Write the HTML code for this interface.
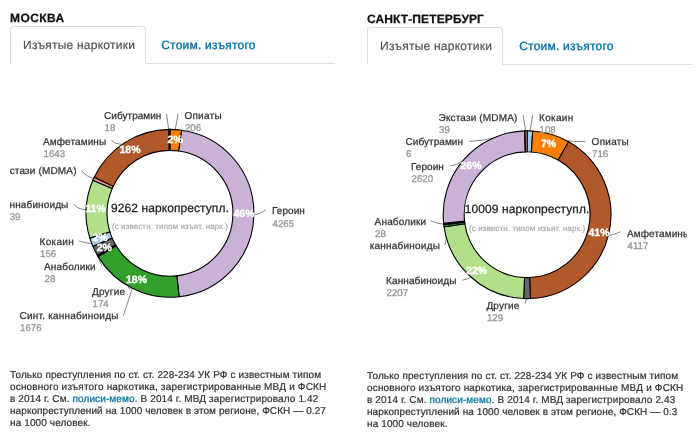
<!DOCTYPE html>
<html lang="ru"><head><meta charset="utf-8"><title>Наркопреступления</title>
<style>
html,body{margin:0;padding:0;background:#fff}
body{text-rendering:geometricPrecision;width:700px;height:440px;position:relative;overflow:hidden;font-family:"Liberation Sans",Arial,Helvetica,sans-serif;color:#333}
.panel{position:absolute;top:0;width:325px;height:440px}
.p1{left:10px;top:0}
.p2{left:367px;top:1px}
.title{position:absolute;left:0;top:10.2px;font-size:12px;line-height:16px;font-weight:bold;color:#111;white-space:nowrap;letter-spacing:.43px;-webkit-text-stroke:.25px #111}
.p2 .title{letter-spacing:.12px}
.p2 .tab.lnk{left:152.2px}
.tabs{position:absolute;left:0;top:26px;width:325px;height:37px;border-bottom:1px solid #ddd}
.tab{position:absolute;top:0;height:36px;line-height:35px;font-size:12px;white-space:nowrap}
.tab.act{left:0;border:1px solid #ddd;border-bottom:1px solid #fff;border-radius:4px 4px 0 0;padding-left:12.1px;width:121.9px;text-align:left;color:#555;background:#fff;letter-spacing:.24px;-webkit-text-stroke:.2px #555}
.tab.lnk{left:151.2px;top:1px;color:#0073a8;letter-spacing:.23px;-webkit-text-stroke:.32px #0073a8}
.tab span{display:inline-block;transform:translateY(.6px)}
svg.ch{position:absolute;left:0;top:70px;overflow:hidden}
svg text{text-rendering:geometricPrecision;font-family:"Liberation Sans",Arial,Helvetica,sans-serif}
.lab text{font-size:10px;fill:#333;stroke:#333;stroke-width:.25px}
.lab text.v{font-size:9.7px;fill:#979797;stroke:#979797;stroke-width:.3px}
.pct text{font-size:10.5px;font-weight:bold;fill:#fff;stroke:#fff;stroke-width:.35px;text-anchor:middle}
.ct{font-size:12px;fill:#222;stroke:#222;stroke-width:.25px;text-anchor:middle;letter-spacing:.08px}
.cs{font-size:8px;fill:#aaa;stroke:#aaa;stroke-width:.2px;text-anchor:middle;letter-spacing:.1px}
.foot{position:absolute;left:0;top:370px;font-size:10px;line-height:12px;color:#333;white-space:nowrap;letter-spacing:.12px;-webkit-text-stroke:.22px #333}
.foot .l2{letter-spacing:.18px}
.foot .l4{letter-spacing:.08px}
.foot .a{color:#0073a8;-webkit-text-stroke:.25px #0073a8}
</style></head><body>
<div class="panel p1">
<div class="title">МОСКВА</div>
<div class="tabs"><div class="tab act"><span>Изъятые наркотики</span></div><div class="tab lnk"><span>Стоим. изъятого</span></div></div>
<svg class="ch" width="320" height="280" viewBox="0 0 320 280">
<g fill="none" stroke="#858585" stroke-width="1">
<path d="M156.6,44L158.8,61"/>
<path d="M168,44L165,61"/>
<path d="M101.6,70Q103,74 114,74.5"/>
<path d="M71.6,100.6Q75,106 86,109.5"/>
<path d="M64,134Q67,139.5 78,140"/>
<path d="M69,171Q74,172.5 82,173.8"/>
<path d="M92,196L88,187"/>
<path d="M117.90,217.20L121.70,220.10L113.60,245.20"/>
<path d="M243,145.5Q249,144.5 255.5,140"/>
</g>
<g stroke="#000" stroke-width="1.1" stroke-linejoin="miter">
<path d="M160.00,59.40A83.9,83.9 0 0 1 171.69,60.22L168.76,81.01A62.9,62.9 0 0 0 160.00,80.40Z" fill="#ff7f00"/>
<path d="M171.69,60.22A83.9,83.9 0 0 1 169.09,226.71L166.81,205.83A62.9,62.9 0 0 0 168.76,81.01Z" fill="#cab2d6"/>
<path d="M169.09,226.71A83.9,83.9 0 0 1 88.14,186.61L106.13,175.77A62.9,62.9 0 0 0 166.81,205.83Z" fill="#33a02c"/>
<path d="M88.14,186.61A83.9,83.9 0 0 1 87.33,185.23L105.52,174.74A62.9,62.9 0 0 0 106.13,175.77Z" fill="#2a2a2a"/>
<path d="M87.33,185.23A83.9,83.9 0 0 1 82.90,176.38L102.20,168.10A62.9,62.9 0 0 0 105.52,174.74Z" fill="#666666"/>
<path d="M82.90,176.38A83.9,83.9 0 0 1 79.84,168.05L99.90,161.86A62.9,62.9 0 0 0 102.20,168.10Z" fill="#a6cee3"/>
<path d="M79.84,168.05A83.9,83.9 0 0 1 82.90,110.22L102.20,118.50A62.9,62.9 0 0 0 99.90,161.86Z" fill="#b2df8a"/>
<path d="M82.90,110.22A83.9,83.9 0 0 1 84.23,107.26L103.20,116.28A62.9,62.9 0 0 0 102.20,118.50Z" fill="#fb9a99"/>
<path d="M84.23,107.26A83.9,83.9 0 0 1 158.98,59.41L159.23,80.40A62.9,62.9 0 0 0 103.20,116.28Z" fill="#b15928"/>
<path d="M158.98,59.41A83.9,83.9 0 0 1 160.00,59.40L160.00,80.40A62.9,62.9 0 0 0 159.23,80.40Z" fill="#222222"/>
</g>
<g class="pct">
<text x="165" y="72.6">2%</text>
<text x="234" y="147">46%</text>
<text x="126.5" y="213">18%</text>
<text x="94.3" y="180.5">2%</text>
<text x="90" y="171.2">2%</text>
<text x="85.5" y="142">11%</text>
<text x="120" y="83.4">18%</text>
</g>
<g class="lab">
<text x="94" y="49.4" textLength="57.4" lengthAdjust="spacing">Сибутрамин</text>
<text class="v" x="94.5" y="61.4">18</text>
<text x="174.4" y="49.4" textLength="37.2" lengthAdjust="spacing">Опиаты</text>
<text class="v" x="174.9" y="61.4">206</text>
<text x="33" y="74.6" textLength="63.2" lengthAdjust="spacing">Амфетамины</text>
<text class="v" x="33.5" y="86.6">1643</text>
<text x="-12.3" y="104.2" textLength="78.8" lengthAdjust="spacing">Экстази (MDMA)</text>
<text class="v" x="-11.8" y="116.2">57</text>
<text x="-12.1" y="138.1" textLength="70.4" lengthAdjust="spacing">Каннабиноиды</text>
<text class="v" x="-11.1" y="150.1">1039</text>
<text x="29.6" y="175" textLength="34.2" lengthAdjust="spacing">Кокаин</text>
<text class="v" x="30.1" y="187.0">156</text>
<text x="34" y="200" textLength="51.6" lengthAdjust="spacing">Анаболики</text>
<text class="v" x="34.5" y="212.0">28</text>
<text x="82" y="225" textLength="33.0" lengthAdjust="spacing">Другие</text>
<text class="v" x="82.5" y="237.0">174</text>
<text x="9.6" y="249.4" textLength="98.8" lengthAdjust="spacing">Синт. каннабиноиды</text>
<text class="v" x="10.1" y="261.4">1676</text>
<text x="262" y="144.3" textLength="32.8" lengthAdjust="spacing">Героин</text>
<text class="v" x="262.5" y="157.2">4265</text>
</g>
<text class="ct" x="160" y="141.8">9262 наркопреступл.</text>
<text class="cs" x="160" y="159">(с известн. типом изъят. нарк.)</text>
</svg>
<div class="foot"><span class="l1">Только преступления по ст. ст. 228-234 УК РФ с известным типом</span><br><span class="l2">основного изъятого наркотика, зарегистрированные МВД и ФСКН</span><br><span class="l3">в 2014 г. См. <span class="a">полиси-мемо</span>. В 2014 г. МВД зарегистрировало 1.42</span><br><span class="l4">наркопреступлений на 1000 человек в этом регионе, ФСКН — 0.27</span><br><span class="l5">на 1000 человек.</span></div>
</div>
<div class="panel p2">
<div class="title">САНКТ-ПЕТЕРБУРГ</div>
<div class="tabs"><div class="tab act"><span>Изъятые наркотики</span></div><div class="tab lnk"><span>Стоим. изъятого</span></div></div>
<svg class="ch" width="320" height="280" viewBox="0 0 320 280">
<g fill="none" stroke="#858585" stroke-width="1">
<path d="M156.1,44L158.8,61"/>
<path d="M165.8,44L162.8,61"/>
<path d="M102,70.3Q113,70.2 128,67"/>
<path d="M218.5,70.3Q208,71 193,69"/>
<path d="M83.6,95Q89,94.5 95,90"/>
<path d="M64,150Q69,152.5 79,153.6"/>
<path d="M78,174L79.8,164"/>
<path d="M95.4,209.2Q99,209 104,206"/>
<path d="M160.2,226L158,232.5"/>
<path d="M242,164.5Q248,163.5 253.5,160.8"/>
</g>
<g stroke="#000" stroke-width="1.1" stroke-linejoin="miter">
<path d="M160.10,59.80A83.9,83.9 0 0 1 165.78,59.99L164.36,80.94A62.9,62.9 0 0 0 160.10,80.80Z" fill="#a6cee3"/>
<path d="M165.78,59.99A83.9,83.9 0 0 1 201.59,70.78L191.20,89.03A62.9,62.9 0 0 0 164.36,80.94Z" fill="#ff7f00"/>
<path d="M201.59,70.78A83.9,83.9 0 0 1 163.44,227.53L162.61,206.55A62.9,62.9 0 0 0 191.20,89.03Z" fill="#b15928"/>
<path d="M163.44,227.53A83.9,83.9 0 0 1 156.65,227.53L157.51,206.55A62.9,62.9 0 0 0 162.61,206.55Z" fill="#666666"/>
<path d="M156.65,227.53A83.9,83.9 0 0 1 77.07,155.76L97.85,152.74A62.9,62.9 0 0 0 157.51,206.55Z" fill="#b2df8a"/>
<path d="M77.07,155.76A83.9,83.9 0 0 1 76.80,153.72L97.65,151.21A62.9,62.9 0 0 0 97.85,152.74Z" fill="#33a02c"/>
<path d="M76.80,153.72A83.9,83.9 0 0 1 76.64,152.26L97.53,150.12A62.9,62.9 0 0 0 97.65,151.21Z" fill="#2a2a2a"/>
<path d="M76.64,152.26A83.9,83.9 0 0 1 157.73,59.83L158.32,80.83A62.9,62.9 0 0 0 97.53,150.12Z" fill="#cab2d6"/>
<path d="M157.73,59.83A83.9,83.9 0 0 1 158.05,59.83L158.56,80.82A62.9,62.9 0 0 0 158.32,80.83Z" fill="#222222"/>
<path d="M158.05,59.83A83.9,83.9 0 0 1 160.10,59.80L160.10,80.80A62.9,62.9 0 0 0 158.56,80.82Z" fill="#fb9a99"/>
</g>
<g class="pct">
<text x="181.5" y="75.7">7%</text>
<text x="232" y="164.6">41%</text>
<text x="109.7" y="202.6">22%</text>
<text x="104" y="97.7">26%</text>
</g>
<g class="lab">
<text x="71.6" y="49.6" textLength="78.8" lengthAdjust="spacing">Экстази (MDMA)</text>
<text class="v" x="72.1" y="61.6">39</text>
<text x="172" y="49.6" textLength="34.2" lengthAdjust="spacing">Кокаин</text>
<text class="v" x="172.5" y="61.6">108</text>
<text x="38.6" y="74.2" textLength="57.4" lengthAdjust="spacing">Сибутрамин</text>
<text class="v" x="39.1" y="86.2">6</text>
<text x="224.6" y="74.4" textLength="37.2" lengthAdjust="spacing">Опиаты</text>
<text class="v" x="225.1" y="86.4">716</text>
<text x="44" y="99" textLength="32.8" lengthAdjust="spacing">Героин</text>
<text class="v" x="44.5" y="111.0">2620</text>
<text x="7.6" y="153.6" textLength="51.6" lengthAdjust="spacing">Анаболики</text>
<text class="v" x="8.1" y="165.6">28</text>
<text x="-25.9" y="178" textLength="98.8" lengthAdjust="spacing">Синт. каннабиноиды</text>
<text class="v" x="-25.4" y="190.0">39</text>
<text x="19" y="213" textLength="70.4" lengthAdjust="spacing">Каннабиноиды</text>
<text class="v" x="19.5" y="225.0">2207</text>
<text x="119.4" y="238" textLength="33.0" lengthAdjust="spacing">Другие</text>
<text class="v" x="119.9" y="250.0">129</text>
<text x="260" y="165.6" textLength="63.2" lengthAdjust="spacing">Амфетамины</text>
<text class="v" x="260.5" y="177.6">4117</text>
</g>
<text class="ct" x="160.10000000000002" y="142">10009 наркопреступл.</text>
<text class="cs" x="160.10000000000002" y="160.3">(с известн. типом изъят. нарк.)</text>
</svg>
<div class="foot"><span class="l1">Только преступления по ст. ст. 228-234 УК РФ с известным типом</span><br><span class="l2">основного изъятого наркотика, зарегистрированные МВД и ФСКН</span><br><span class="l3">в 2014 г. См. <span class="a">полиси-мемо</span>. В 2014 г. МВД зарегистрировало 2.43</span><br><span class="l4">наркопреступлений на 1000 человек в этом регионе, ФСКН — 0.3</span><br><span class="l5">на 1000 человек.</span></div>
</div>
</body></html>
